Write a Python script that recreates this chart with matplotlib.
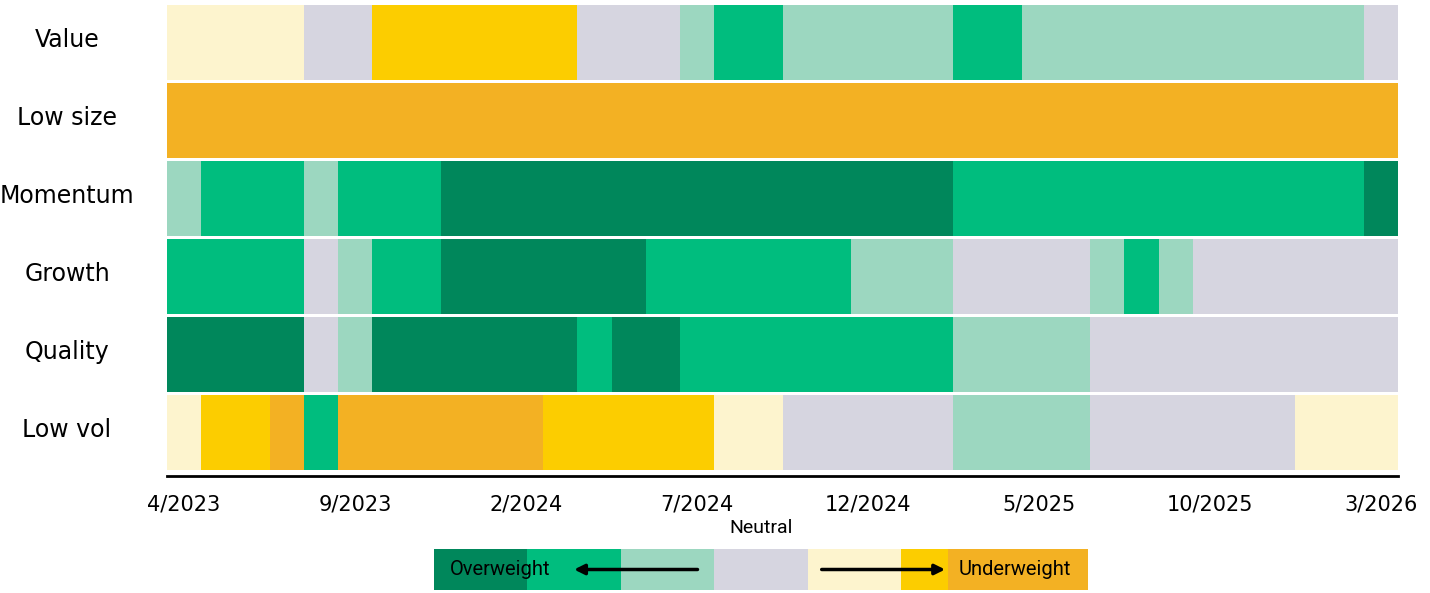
import numpy as np
import matplotlib
matplotlib.use("Agg")
import matplotlib.pyplot as plt
from matplotlib.colors import ListedColormap, BoundaryNorm
from matplotlib.transforms import ScaledTranslation

# ---- data ----
factors = ["Value", "Low size", "Momentum", "Growth", "Quality", "Low vol"]
months = [f"{(3 + i) % 12 + 1}/{2023 + (3 + i) // 12}" for i in range(36)]  # 4/2023 .. 3/2026
tick_every = 5

# 3 = strong overweight ... 0 = neutral ... -3 = strong underweight
value    = [-1]*4 + [0]*2 + [-2]*6 + [0]*3 + [1] + [2]*2 + [1]*5 + [2]*2 + [1]*10 + [0]
low_size = [-3]*36
momentum = [1] + [2]*3 + [1] + [2]*3 + [3]*15 + [2]*12 + [3]
growth   = [2]*4 + [0] + [1] + [2]*2 + [3]*6 + [2]*6 + [1]*3 + [0]*4 + [1] + [2] + [1] + [0]*6
quality  = [3]*4 + [0] + [1] + [3]*6 + [2] + [3]*2 + [2]*8 + [1]*4 + [0]*9
low_vol  = [-1] + [-2]*2 + [-3] + [2] + [-3]*6 + [-2]*5 + [-1]*2 + [0]*5 + [1]*4 + [0]*6 + [-1]*3

rows = [value, low_size, momentum, growth, quality, low_vol]

levels = [3, 2, 1, 0, -1, -2, -3]
level_colors = ["#00875B", "#00BD7E", "#9CD7C0", "#D6D5E0", "#FDF4CE", "#FCCD00", "#F3B123"]
legend_widths = [1, 1, 1, 1, 1, 0.5, 1.5]
legend_left = "Overweight"
legend_right = "Underweight"
legend_mid = "Neutral"

# ---- plot ----
W, H = 1430, 593
fig = plt.figure(figsize=(W/100, H/100), dpi=100)
ax = fig.add_axes([167/W, 1 - 471.5/H, (1398-167)/W, 468/H])

cmap = ListedColormap(level_colors[::-1])
norm = BoundaryNorm(np.arange(-3.5, 4.5, 1), cmap.N)

n = len(months)
xedges = np.arange(n + 1)
for i, r in enumerate(rows):
    ax.pcolormesh(xedges, [i - 0.48, i + 0.48], np.array([r]), cmap=cmap, norm=norm,
                  edgecolors="none", antialiased=False)

ax.set_xlim(0, n)
ax.set_ylim(len(rows) - 0.5, -0.5)
ax.tick_params(axis="y", length=0, pad=72, labelsize=17)
ax.tick_params(axis="x", length=0, pad=13, labelsize=15)
ax.set_yticks(range(len(rows)))
ax.set_yticklabels(factors, ha="center")
tix = np.arange(0, n, tick_every)
ax.set_xticks(tix + 0.5)
ax.set_xticklabels([months[t] for t in tix])
for lbl in ax.get_yticklabels():
    lbl.set_transform(lbl.get_transform() + ScaledTranslation(0, 5/100, fig.dpi_scale_trans))
for s in ["top", "left", "right"]:
    ax.spines[s].set_visible(False)
ax.spines["bottom"].set_position(("outward", 3.3))
ax.spines["bottom"].set_linewidth(2)

# ---- legend ----
lax = fig.add_axes([434/W, 1 - 590/H, (1088-434)/W, 41/H])
lefts = np.concatenate([[0], np.cumsum(legend_widths)[:-1]])
lax.barh(0.5, legend_widths, left=lefts, height=1, color=level_colors, linewidth=0)
lax.set_xlim(0, sum(legend_widths))
lax.set_ylim(0, 1)
lax.axis("off")
lax.text(0.71, 0.5, legend_left, ha="center", va="center", fontsize=14.5, family="Roboto")
lax.text(6.22, 0.5, legend_right, ha="center", va="center",
         fontsize=14.5, family="Roboto")
lax.text(3.5, 1.3, legend_mid, ha="center", va="bottom", fontsize=14, family="Roboto")
lax.annotate("", xy=(1.47, 0.5), xytext=(2.85, 0.5),
             arrowprops=dict(arrowstyle="-|>,head_length=0.6,head_width=0.3", color="black", lw=2.5))
lax.annotate("", xy=(5.5, 0.5), xytext=(4.12, 0.5),
             arrowprops=dict(arrowstyle="-|>,head_length=0.6,head_width=0.3", color="black", lw=2.5))

fig.savefig("out.png", dpi=100)
